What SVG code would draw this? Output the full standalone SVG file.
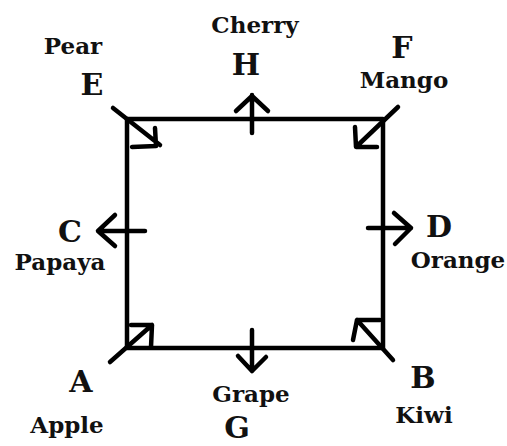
<svg xmlns="http://www.w3.org/2000/svg" width="507" height="446" viewBox="0 0 507 446">
<style>
.big{font-family:"DejaVu Serif","Liberation Serif",serif;font-weight:bold;font-size:30px;fill:#111;text-anchor:middle}
.sm{font-family:"DejaVu Serif","Liberation Serif",serif;font-weight:bold;font-size:23px;fill:#111;text-anchor:middle}
.ln{stroke:#000;stroke-width:4.5;fill:none;stroke-linecap:round;stroke-linejoin:round}
</style>
<rect width="507" height="446" fill="#fff"/>
<g id="square"><rect class="ln" x="127" y="119" width="256" height="229"/></g>
<g id="connectors">
<path class="ln" d="M113 108 L160 145 M155 128 L156 146 L132 147"/>
<path class="ln" d="M398 107 L357 146 M355 127 L356 147 L377 147"/>
<path class="ln" d="M110 362 L152 325 M131 325 L152 325 L151 347"/>
<path class="ln" d="M393 360 L357 320 M380 320 L357 320 L353 340"/>
<path class="ln" d="M252 133 L252 95 M236 111 L252 96 L268 111"/>
<path class="ln" d="M252 330 L252 371 M238 356 L252 371 L266 357"/>
<path class="ln" d="M145 231 L98 231 M115 215 L98 231 L115 246"/>
<path class="ln" d="M368 228 L411 228 M394 213 L411 228 L395 244"/>
</g>
<g id="E"><text class="sm" x="73" y="54">Pear</text><text class="big" x="92" y="95">E</text></g>
<g id="H"><text class="sm" x="255" y="33">Cherry</text><text class="big" x="246" y="75">H</text></g>
<g id="F"><text class="big" x="402" y="58">F</text><text class="sm" x="404" y="88">Mango</text></g>
<g id="C"><text class="big" x="70" y="242">C</text><text class="sm" x="60" y="270">Papaya</text></g>
<g id="D"><text class="big" x="439" y="237">D</text><text class="sm" x="458" y="268">Orange</text></g>
<g id="A"><text class="big" x="81" y="392">A</text><text class="sm" x="67" y="433">Apple</text></g>
<g id="G"><text class="sm" x="251" y="402">Grape</text><text class="big" x="237" y="438">G</text></g>
<g id="B"><text class="big" x="423" y="388">B</text><text class="sm" x="424" y="423">Kiwi</text></g>
</svg>
